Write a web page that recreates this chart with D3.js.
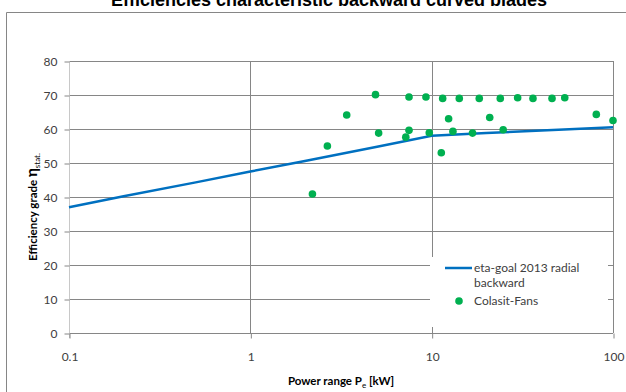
<!DOCTYPE html>
<html>
<head>
<meta charset="utf-8">
<script src="https://cdn.jsdelivr.net/npm/d3@7"></script>
<style>
  html, body { margin: 0; padding: 0; background: #fff; }
  svg { display: block; }
</style>
</head>
<body>
<svg id="chart" width="626" height="392"></svg>
<script>
// eta-goal 2013 radial backward
const goalPower = [0.1, 0.2, 0.5, 1, 2, 5, 10, 20, 50, 100];
const goalEta = [37, 40.2, 44.3, 47.5, 50.6, 54.8, 58, 58.8, 59.8, 60.5];

// Colasit fans
const fanPower = [4.9, 7.5, 9.3, 11.5, 14.2, 18.3, 23.9, 29.8, 36.2, 46.1, 54.2,
    3.4, 12.4, 20.9, 80.9, 100,
    5.1, 7.5, 7.2, 9.7, 13.1, 16.8, 24.8, 11.3, 2.66, 2.2];
const fanEta = [70.1, 69.4, 69.4, 69.0, 69.0, 69.0, 69.0, 69.2, 69.0, 69.0, 69.2,
    64.1, 63.0, 63.4, 64.3, 62.5,
    58.8, 59.6, 57.6, 58.9, 59.3, 58.8, 59.8, 53.0, 55.0, 40.9];

const xTicks = [0.1, 1, 10, 100];
const yTicks = [0, 10, 20, 30, 40, 50, 60, 70, 80];

const svg = d3.select("#chart");
const tickFont = "Lato, 'Open Sans', sans-serif";

// outer chart frame (only top and left edges are inside the picture)
svg.append("path")
    .attr("d", "M6.5,392 V12.5 H626")
    .attr("fill", "none")
    .attr("stroke", "#868686")
    .attr("stroke-width", 1);

// title, clipped at the top
svg.append("text")
    .attr("x", 329)
    .attr("y", 6)
    .attr("text-anchor", "middle")
    .style("font-family", "'Liberation Sans', Arial, sans-serif")
    .style("font-weight", "bold")
    .style("font-size", "18px")
    .attr("fill", "#000")
    .text("Efficiencies characteristic backward curved blades");

const x = d3.scaleLog().domain([0.1, 100]).range([69, 613]);
const y = d3.scaleLinear().domain([0, 80]).range([333, 61]);

// --- grid ---
const grid = svg.append("g");
grid.selectAll(".hgrid")
    .data(yTicks)
    .enter()
    .append("line")
    .attr("x1", x(0.1))
    .attr("x2", x(100))
    .attr("y1", d => Math.round(y(d)) + 0.5)
    .attr("y2", d => Math.round(y(d)) + 0.5)
    .attr("stroke", "#868686")
    .attr("stroke-width", 1);

grid.selectAll(".vgrid")
    .data(xTicks.slice(1))
    .enter()
    .append("line")
    .attr("x1", d => Math.round(x(d)) + 0.5)
    .attr("x2", d => Math.round(x(d)) + 0.5)
    .attr("y1", y(80))
    .attr("y2", y(0))
    .attr("stroke", "#868686")
    .attr("stroke-width", 1);

// y axis line (light)
svg.append("line")
    .attr("x1", Math.round(x(0.1)) + 0.5)
    .attr("x2", Math.round(x(0.1)) + 0.5)
    .attr("y1", y(80))
    .attr("y2", y(0) + 5)
    .attr("stroke", "#c8c8c8")
    .attr("stroke-width", 1);

// --- axes ---
const yAxis = svg.append("g")
    .attr("transform", `translate(${Math.round(x(0.1)) + 0.5},0.5)`)
    .call(d3.axisLeft(y).tickValues(yTicks).tickSize(5).tickPadding(7).tickFormat(d3.format("d")));
yAxis.select(".domain").remove();
yAxis.selectAll(".tick line").attr("stroke", "#868686");
yAxis.selectAll("text")
    .style("font-family", tickFont)
    .style("font-size", "12px")
    .attr("fill", "#404040");

const xAxis = svg.append("g")
    .attr("transform", `translate(0.5,${Math.round(y(0)) + 0.5})`)
    .call(d3.axisBottom(x).tickValues(xTicks).tickSize(5).tickPadding(14).tickFormat(d => d));
xAxis.select(".domain").remove();
xAxis.selectAll(".tick line").attr("stroke", "#868686");
xAxis.selectAll("text")
    .style("font-family", tickFont)
    .style("font-size", "12px")
    .attr("fill", "#404040");

// axis titles
const yTitle = svg.append("text")
    .attr("transform", "translate(37,207) rotate(-90)")
    .attr("text-anchor", "middle")
    .style("font-family", tickFont)
    .style("font-weight", "bold")
    .style("font-size", "11.5px")
    .attr("fill", "#000");
yTitle.append("tspan").text("Efficiency grade ");
yTitle.append("tspan").style("font-size", "15px").text("η");
yTitle.append("tspan").attr("dy", 3).style("font-size", "8px").style("font-weight", "normal").text("stat.");

const xTitle = svg.append("text")
    .attr("x", 341)
    .attr("y", 385)
    .attr("text-anchor", "middle")
    .style("font-family", tickFont)
    .style("font-weight", "bold")
    .style("font-size", "11.5px")
    .attr("fill", "#000");
xTitle.append("tspan").text("Power range P");
xTitle.append("tspan").attr("dy", 3).style("font-size", "8px").style("font-weight", "normal").text("e");
xTitle.append("tspan").attr("dy", -3).text(" [kW]");

// --- goal line ---
const line = d3.line()
    .x(d => x(d[0]))
    .y(d => y(d[1]));

svg.append("path")
    .datum(d3.zip(goalPower, goalEta))
    .attr("d", line)
    .attr("fill", "none")
    .attr("stroke", "#0070C0")
    .attr("stroke-width", 2.5);

// --- fans ---
svg.selectAll(".fan")
    .data(d3.zip(fanPower, fanEta))
    .enter()
    .append("circle")
    .attr("class", "fan")
    .attr("cx", d => x(d[0]))
    .attr("cy", d => y(d[1]))
    .attr("r", 3.8)
    .attr("fill", "#00B050");

// --- legend ---
const legend = svg.append("g");
legend.append("rect")
    .attr("x", 430)
    .attr("y", 257)
    .attr("width", 178)
    .attr("height", 70)
    .attr("fill", "#fff");

legend.append("line")
    .attr("x1", 445)
    .attr("x2", 472)
    .attr("y1", 268)
    .attr("y2", 268)
    .attr("stroke", "#0070C0")
    .attr("stroke-width", 2.5);

const legText = legend.append("text")
    .attr("x", 474)
    .attr("y", 272)
    .style("font-family", tickFont)
    .style("font-size", "12px")
    .attr("fill", "#404040");
legText.append("tspan").text("eta-goal 2013 radial");
legText.append("tspan").attr("x", 474).attr("dy", 15).text("backward");

legend.append("circle")
    .attr("cx", 459)
    .attr("cy", 301)
    .attr("r", 3.8)
    .attr("fill", "#00B050");

legend.append("text")
    .attr("x", 474)
    .attr("y", 305)
    .style("font-family", tickFont)
    .style("font-size", "12px")
    .attr("fill", "#404040")
    .text("Colasit-Fans");
</script>
</body>
</html>
